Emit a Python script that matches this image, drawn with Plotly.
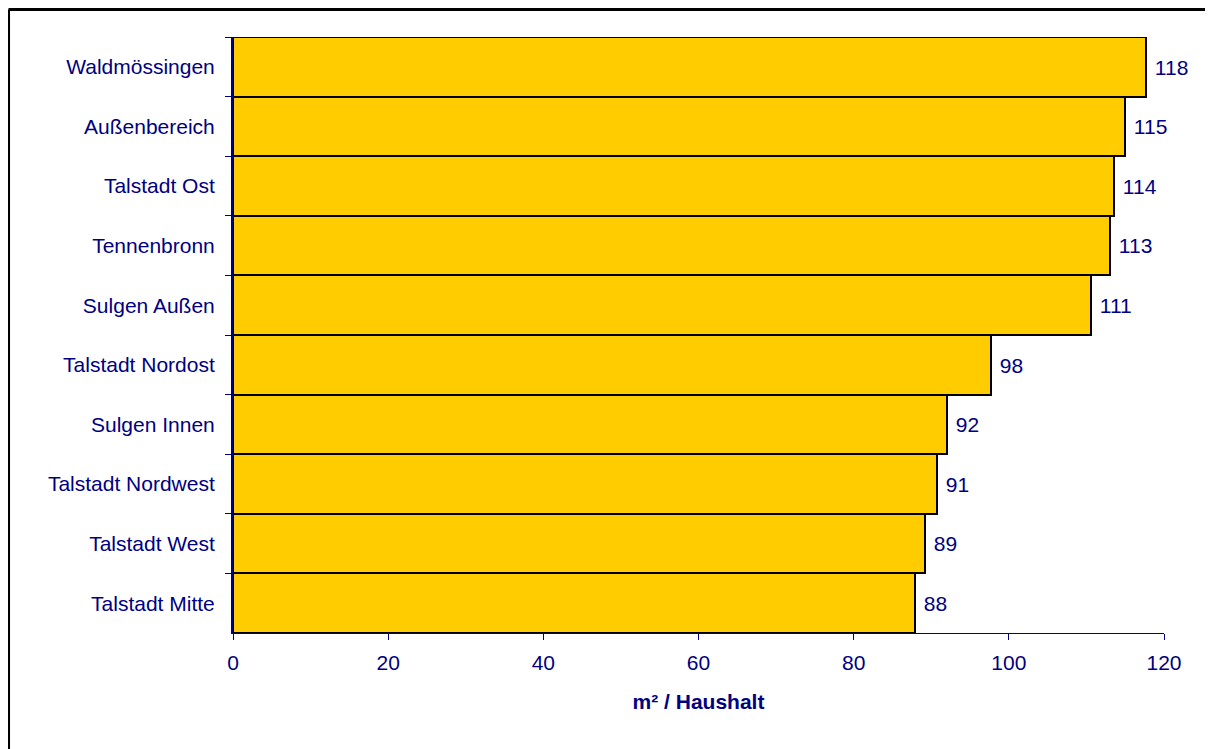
import plotly.graph_objects as go

# Wohnfläche je Haushalt nach Stadtbezirk
bezirke = ["Waldmössingen", "Außenbereich", "Talstadt Ost", "Tennenbronn", "Sulgen Außen",
           "Talstadt Nordost", "Sulgen Innen", "Talstadt Nordwest", "Talstadt West", "Talstadt Mitte"]
werte = [117.7, 115.0, 113.6, 113.1, 110.6, 97.7, 92.0, 90.7, 89.2, 87.9]
x_ticks = [0, 20, 40, 60, 80, 100, 120]

navy = "#000080"

fig = go.Figure(go.Bar(
    x=werte, y=bezirke, orientation="h",
    marker=dict(color="#FFCC00", line=dict(color="black", width=2)),
    texttemplate="\u00a0%{x:.0f}", textposition="outside",
    textfont=dict(color=navy, size=21),
    cliponaxis=False,
))

fig.update_layout(
    width=1213, height=749,
    plot_bgcolor="white", paper_bgcolor="white",
    font=dict(family="Liberation Sans, Arial, sans-serif", color=navy, size=21),
    margin=dict(l=225, r=57, t=29, b=124),
    bargap=0,
    showlegend=False,
)

fig.update_xaxes(range=[0, 120], tickvals=x_ticks, showgrid=False, zeroline=False,
                 showline=True, linecolor=navy, linewidth=1,
                 ticks="outside", ticklen=6, tickcolor=navy, ticklabelstandoff=5,
                 title=dict(text="<b>m² / Haushalt</b>", standoff=21, font=dict(size=21)))
fig.update_yaxes(autorange="reversed", showgrid=False, zeroline=False,
                 showline=True, linecolor=navy, linewidth=2,
                 ticks="outside", ticklen=6, tickcolor=navy, tickson="boundaries",
                 ticklabelstandoff=12)

# Rahmen um das Diagramm (nur links und oben sichtbar)
fig.add_shape(type="line", xref="paper", yref="paper", x0=-0.2411, x1=-0.2411, y0=-0.25, y1=1.0461,
              line=dict(color="black", width=3))
fig.add_shape(type="line", xref="paper", yref="paper", x0=-0.2411, x1=1.1, y0=1.0461, y1=1.0461,
              line=dict(color="black", width=3))

fig.write_html("out.html")
